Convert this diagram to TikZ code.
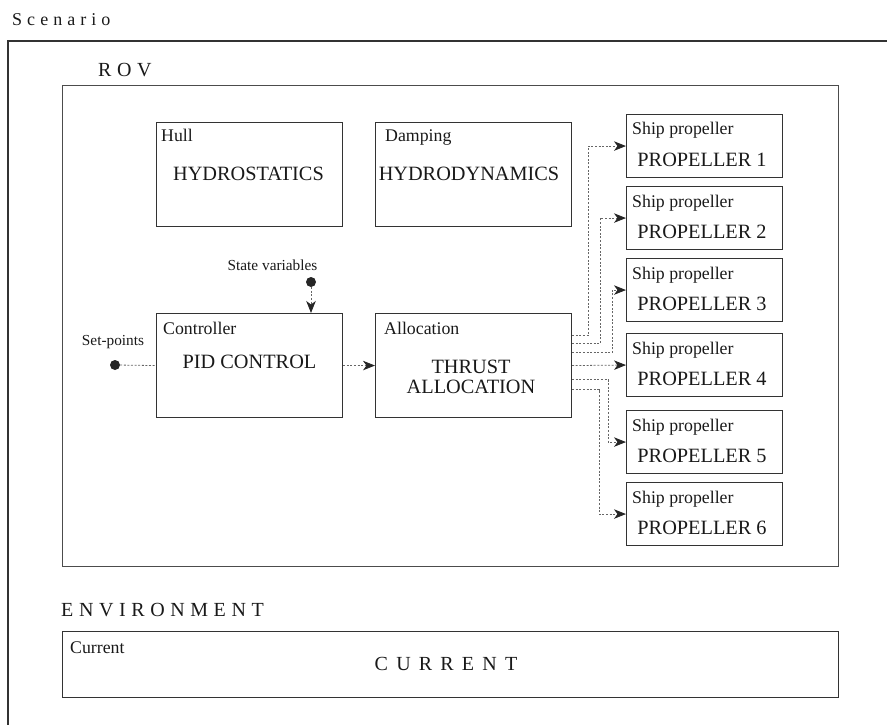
\documentclass[tikz,border=0pt]{standalone}
\usepackage{fontspec}
\setmainfont{Liberation Serif}
\newfontfamily\spfont[LetterSpace=28]{Liberation Serif}
\newfontfamily\spfontw[LetterSpace=41]{Liberation Serif}
\usetikzlibrary{arrows.meta,calc}
\newcommand{\fBig}{\fontsize{20.3}{23}\selectfont}
\newcommand{\fSmall}{\fontsize{17.8}{20}\selectfont}
\newcommand{\fTiny}{\fontsize{15.3}{17}\selectfont}
\begin{document}
\begin{tikzpicture}[x=1pt,y=-1pt,
  box/.style={draw=black!80, line width=1.1pt, inner sep=0pt, anchor=north west},
  lbl/.style={font=\fSmall, inner sep=0pt, anchor=base west, text=black!90},
  big/.style={font=\fBig, inner sep=0pt, text=black!90, align=center},
  title/.style={font=\spfont\fontsize{20}{23}\selectfont, inner sep=0pt, anchor=base west, text=black!90},
  tiny/.style={font=\fTiny, inner sep=0pt, anchor=base, text=black!90},
  dotnode/.style={circle, fill=black!85, inner sep=0pt, minimum size=10pt},
  dotline/.style={draw=black!60, line width=0.8pt, dash pattern=on 2pt off 1.6pt},
  conn/.style={dotline, -{Stealth[length=12pt,width=9.5pt,inset=3.5pt,color=black!85]}}
]
\useasboundingbox (0,0) rectangle (887,725);

% frames
\draw[black!80, line width=1.6pt] (895,41) -- (8,41) -- (8,735);
\node[title, font=\spfont\fontsize{18}{21}\selectfont] (tscen) at (12,26) {Scenario};
\node[box, draw=black!70, line width=1.2pt, minimum width=776pt, minimum height=481pt] (rov) at (62,85) {};
\node[title] (trov) at (98,77) {ROV};
\node[title] (tenv) at (61,616) {ENVIRONMENT};

% top row
\node[box, minimum width=186pt, minimum height=104pt] (hull) at (156,122) {};
\node[lbl] (lhull) at ($(hull.north west)+(5,20)$) {Hull};
\node[big] (thull) at (248.5,174) {HYDROSTATICS};

\node[box, minimum width=196pt, minimum height=104pt] (damp) at (375,122) {};
\node[lbl] (ldamp) at ($(damp.north west)+(10,20)$) {Damping};
\node[big] (tdamp) at (469,174) {HYDRODYNAMICS};

% controller / allocation
\node[box, minimum width=186pt, minimum height=104pt] (ctrl) at (156,313) {};
\node[lbl] (lctrl) at ($(ctrl.north west)+(7,21)$) {Controller};
\node[big] (tctrl) at (249.5,362) {PID CONTROL};

\node[box, minimum width=196pt, minimum height=104pt] (alloc) at (375,313) {};
\node[lbl] (lalloc) at ($(alloc.north west)+(9,21)$) {Allocation};
\node[big] (talloc) at (471,377) {THRUST\\[-3pt]ALLOCATION};

% propellers
\foreach \i/\t in {1/114,2/186,3/258,4/333,5/410,6/482}{
  \node[box, minimum width=156pt, minimum height=63pt] (p\i) at (626,\t) {};
  \node[lbl] (lp\i) at ($(p\i.north west)+(6,21)$) {Ship propeller};
  \node[big] (tp\i) at ($(p\i.north west)+(76,46)$) {PROPELLER \i};
}

% environment
\node[box, minimum width=776pt, minimum height=66pt] (cur) at (62,631) {};
\node[lbl] (lcur) at ($(cur.north west)+(8,22)$) {Current};
\node[title, anchor=center, font=\spfontw\fontsize{20}{23}\selectfont] (tcur) at (446,664) {CURRENT};

% inputs
\node[dotnode] (sv) at (311,282) {};
\node[tiny] (lsv) at (272.5,270) {State variables};
\node[dotnode] (spt) at (115,365) {};
\node[tiny] (lspt) at (113,345) {Set-points};

% connectors
\draw[dotline] (spt) -- (ctrl.west);
\draw[conn] (sv) -- (sv |- ctrl.north);
\draw[conn] (ctrl.east) -- (alloc.west);

\draw[conn] ($(alloc.east)+(0,-30)$) -- ++(16,0) |- (p1.west);
\draw[conn] ($(alloc.east)+(0,-22)$) -- ++(28,0) |- (p2.west);
\draw[conn] ($(alloc.east)+(0,-13)$) -- ++(40,0) |- (p3.west);
\draw[conn] (alloc.east) -- (p4.west);
\draw[conn] ($(alloc.east)+(0,14)$) -- ++(36,0) |- (p5.west);
\draw[conn] ($(alloc.east)+(0,24)$) -- ++(27,0) |- (p6.west);
\end{tikzpicture}
\end{document}
